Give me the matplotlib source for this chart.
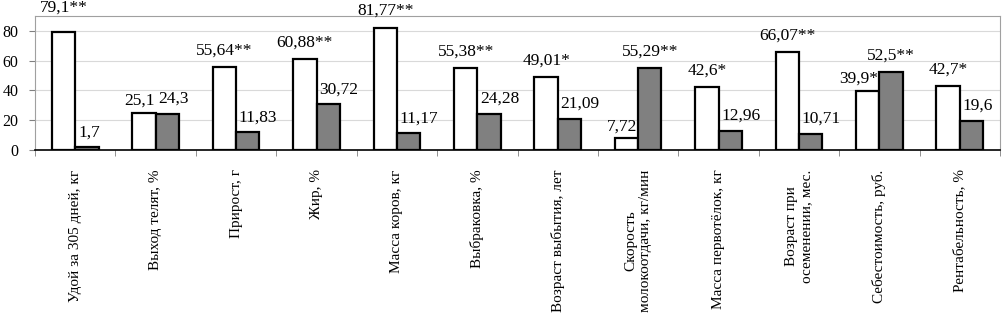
import numpy as np
import matplotlib
matplotlib.use('Agg')
import matplotlib.pyplot as plt

# data
categories = ['Удой за 305 дней, кг', 'Выход телят, %', 'Прирост, г', 'Жир, %',
              'Масса коров, кг', 'Выбраковка, %', 'Возраст выбытия, лет',
              'Скорость\nмолокоотдачи, кг/мин', 'Масса первотёлок, кг',
              'Возраст при\nосеменении, мес.', 'Себестоимость, руб.', 'Рентабельность, %']
white_vals = [79.1, 25.1, 55.64, 60.88, 81.77, 55.38, 49.01, 7.72, 42.6, 66.07, 39.9, 42.7]
gray_vals = [1.7, 24.3, 11.83, 30.72, 11.17, 24.28, 21.09, 55.29, 12.96, 10.71, 52.5, 19.6]
white_labels = ['79,1**', '25,1', '55,64**', '60,88**', '81,77**', '55,38**', '49,01*',
                '7,72', '42,6*', '66,07**', '39,9*', '42,7*']
gray_labels = ['1,7', '24,3', '11,83', '30,72', '11,17', '24,28', '21,09', '55,29**',
               '12,96', '10,71', '52,5**', '19,6']

plt.rcParams['font.family'] = ['Liberation Serif', 'DejaVu Serif']

fig = plt.figure(figsize=(10.02, 3.15), dpi=100)
ax = fig.add_axes([0.035, 0.524, 0.963, 0.425])

x = np.arange(len(categories))
w = 0.29
b1 = ax.bar(x - w/2, white_vals, w, color='white', edgecolor='black', linewidth=1.6, zorder=3)
b2 = ax.bar(x + w/2, gray_vals, w, color='#808080', edgecolor='black', linewidth=1.6, zorder=3)

# white labels: centred, except a few pushed to the left of the bar
for i, (v, lab) in enumerate(zip(white_vals, white_labels)):
    dy = 6
    if v > 80:
        dy = 7
    elif v > 75:
        dy = 12
    if i in (1, 7, 10):
        ax.annotate(lab, (x[i], v), xytext=(-1, dy - 3), textcoords='offset points',
                    ha='right', va='bottom', fontsize=12.5)
    else:
        ax.annotate(lab, (x[i] - w/2, v), xytext=(0, dy), textcoords='offset points',
                    ha='center', va='bottom', fontsize=12.5)

# gray labels: starred ones centred, rest start at the bar's left edge
for i, (v, lab) in enumerate(zip(gray_vals, gray_labels)):
    if '*' in lab:
        ax.annotate(lab, (x[i] + w/2, v), xytext=(0, 6), textcoords='offset points',
                    ha='center', va='bottom', fontsize=12.5)
    else:
        ax.annotate(lab, (x[i], v), xytext=(2, 5), textcoords='offset points',
                    ha='left', va='bottom', fontsize=12.5)

ax.set_xlim(-0.5, len(categories) - 0.5)
ax.set_ylim(0, 90)
ax.set_yticks([0, 20, 40, 60, 80])
ax.yaxis.grid(True, color='#d9d9d9', linewidth=0.8, zorder=0)

ax.set_xticks(x)
ax.set_xticklabels(categories, rotation=90, ha='center', va='top', fontsize=11,
                   multialignment='center')
ax.tick_params(axis='x', length=0, pad=14)
ax.set_xticks(np.arange(len(categories) + 1) - 0.5, minor=True)
ax.tick_params(axis='x', which='minor', length=4, color='#808080')
ax.tick_params(axis='y', length=4, color='#808080', labelsize=11.5, pad=8)

for s in ['left', 'top', 'right']:
    ax.spines[s].set_color('#a0a0a0')
ax.spines['bottom'].set_color('black')
ax.spines['bottom'].set_linewidth(1.2)

fig.savefig('out.png', dpi=100)
